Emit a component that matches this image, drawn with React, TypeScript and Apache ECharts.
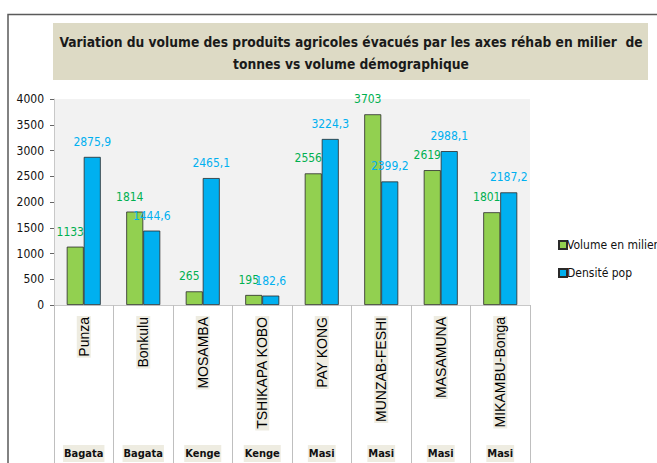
import React, { useEffect, useRef } from "react";
import * as echarts from "echarts";

const sites = ["Punza", "Bonkulu", "MOSAMBA", "TSHIKAPA KOBO", "PAY KONG", "MUNZAB-FESHI", "MASAMUNA", "MIKAMBU-Bonga"];
const zones = ["Bagata", "Bagata", "Kenge", "Kenge", "Masi", "Masi", "Masi", "Masi"];
const volume = [1133, 1814, 265, 195, 2556, 3703, 2619, 1801];
const densite = [2875.9, 1444.6, 2465.1, 182.6, 3224.3, 2399.2, 2988.1, 2187.2];
const titleLines = [
  "Variation du volume des produits agricoles évacués par les axes réhab en milier  de",
  "tonnes vs volume démographique",
];

const COND = "'DejaVu Sans Condensed', 'Liberation Sans', sans-serif";

export default function App() {
  const ref = useRef<HTMLDivElement>(null);
  useEffect(() => {
    if (!ref.current) return;
    const chart = echarts.init(ref.current, null, { renderer: "svg" });
    const fmt = (p: any) => String(p.value).replace(".", ",");
    chart.setOption({
      animation: false,
      backgroundColor: "#ffffff",
      textStyle: { fontFamily: COND },
      graphic: [
        {
          type: "polyline",
          shape: { points: [[8, 463], [8, 14.5], [657, 14.5]] },
          style: { stroke: "#5a5a5a", lineWidth: 1.5, fill: null },
        },
        {
          type: "rect",
          shape: { x: 53, y: 23, width: 595, height: 57 },
          style: { fill: "#dddac5" },
        },
        {
          type: "text",
          x: 351,
          y: 42,
          style: {
            text: titleLines[0],
            fontFamily: COND,
            fontWeight: "bold",
            fontSize: 13.7,
            fill: "#1a1a1a",
            align: "center",
            verticalAlign: "middle",
          },
        },
        {
          type: "text",
          x: 351,
          y: 64,
          style: {
            text: titleLines[1],
            fontFamily: COND,
            fontWeight: "bold",
            fontSize: 13.7,
            fill: "#1a1a1a",
            align: "center",
            verticalAlign: "middle",
          },
        },
      ],
      legend: {
        orient: "vertical",
        left: 553,
        top: 234,
        itemWidth: 8,
        itemHeight: 8,
        itemGap: 16,
        icon: "rect",
        textStyle: { fontFamily: COND, fontSize: 12, color: "#111", padding: [0, 0, 0, -5] },
        data: ["Volume en milier", "Densité pop"],
      },
      grid: {
        left: 54,
        right: 127,
        top: 99,
        bottom: 158,
        show: true,
        backgroundColor: "#f2f2f2",
        borderWidth: 0,
      },
      xAxis: [
        {
          type: "category",
          data: sites,
          axisLine: { lineStyle: { color: "#c8c8c8" } },
          axisTick: { show: true, length: 158, lineStyle: { color: "#bfbfbf" } },
          axisLabel: {
            rotate: 90,
            interval: 0,
            margin: 11,
            fontFamily: "'Liberation Sans', sans-serif",
            fontSize: 14,
            color: "#000",
            backgroundColor: "#eeece1",
            padding: [0, 1],
          },
        },
        {
          type: "category",
          position: "bottom",
          data: zones,
          axisLine: { show: false },
          axisTick: { show: false },
          axisLabel: {
            interval: 0,
            margin: 140,
            fontFamily: COND,
            fontWeight: "bold",
            fontSize: 11,
            color: "#111",
            backgroundColor: "#eeece1",
            padding: [3, 1],
          },
        },
      ],
      yAxis: {
        type: "value",
        min: 0,
        max: 4000,
        interval: 500,
        axisLine: { show: true, lineStyle: { color: "#c8c8c8" } },
        axisTick: { show: true, length: 4, lineStyle: { color: "#666" } },
        splitLine: { show: false },
        axisLabel: {
          fontFamily: COND,
          fontSize: 12,
          color: "#111",
          margin: 10,
          formatter: (v: number) => String(v),
        },
      },
      series: [
        {
          name: "Volume en milier",
          type: "bar",
          data: volume,
          barWidth: 17,
          barGap: "0%",
          itemStyle: { color: "#92d050", borderColor: "#2a2a2a", borderWidth: 0.8 },
          label: {
            show: true,
            position: "top",
            distance: 9,
            offset: [-5, 0],
            formatter: fmt,
            fontFamily: COND,
            fontSize: 12,
            color: "#00b050",
          },
        },
        {
          name: "Densité pop",
          type: "bar",
          data: densite,
          barWidth: 17,
          barGap: "0%",
          itemStyle: { color: "#00b0f0", borderColor: "#2a2a2a", borderWidth: 0.8 },
          label: {
            show: true,
            position: "top",
            distance: 9,
            formatter: fmt,
            fontFamily: COND,
            fontSize: 12,
            color: "#00b0f0",
          },
        },
      ],
    });
    return () => chart.dispose();
  }, []);
  return (
    <div
      ref={ref}
      style={{ position: "fixed", left: 0, top: 0, width: 657, height: 463 }}
    />
  );
}
